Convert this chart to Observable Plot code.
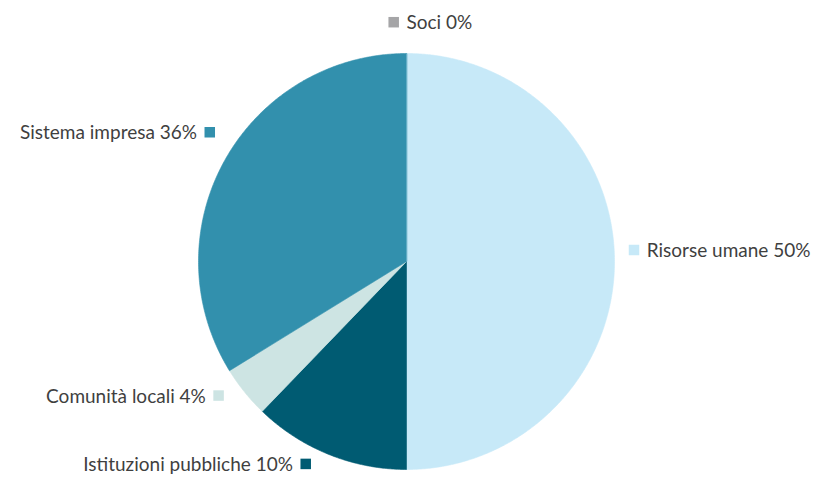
<!DOCTYPE html>
<html>
<head>
<meta charset="utf-8">
<script src="https://cdn.jsdelivr.net/npm/d3@7"></script>
<script src="https://cdn.jsdelivr.net/npm/@observablehq/plot@0.6"></script>
<style>
  html, body { margin: 0; padding: 0; background: #ffffff; }
  svg { display: block; }
</style>
</head>
<body>
<div id="chart"></div>
<script>
// ---- data ----
const categories = ["Risorse umane", "Istituzioni pubbliche", "Comunità locali", "Sistema impresa", "Soci"];
const shares = [50, 12.2, 4.0, 33.8, 0];          // slice sizes as drawn
const labelPct = ["50%", "10%", "4%", "36%", "0%"]; // percentages printed in labels
const colors = ["#c7e9f8", "#005b72", "#cde4e3", "#3290ad", "#a5a5a7"];

// ---- geometry from data ----
const total = d3.sum(shares);
let acc = 0;
const slices = categories.map((c, i) => {
  const a0 = acc / total * 2 * Math.PI;
  acc += shares[i];
  const a1 = acc / total * 2 * Math.PI;
  return {cat: c, i, a0, a1, mid: (a0 + a1) / 2, label: c + " " + labelPct[i]};
});

const polyPts = [];
for (const s of slices) {
  if (s.a1 - s.a0 <= 0) continue;
  polyPts.push({cat: s.cat, x: 0, y: 0});
  const n = Math.max(2, Math.ceil((s.a1 - s.a0) / (Math.PI / 360)));
  for (let k = 0; k <= n; k++) {
    const a = s.a0 + (s.a1 - s.a0) * k / n;
    polyPts.push({cat: s.cat, x: Math.sin(a), y: Math.cos(a)});
  }
}

// label placement: pixel offsets (from the slice's mid-angle point on the rim) to the key square
const R = 208;
const keyOffset = [[20, -11], [-22.5, 10], [-25.5, 4], [-14.6, -27.4], [-12.3, -30.8]];
const rightSide = [true, false, false, false, true];
const half = 5.25 / R;
const keys = slices.map((s, j) => {
  const [ox, oy] = keyOffset[j];
  const x = Math.sin(s.mid) + ox / R;
  const y = Math.cos(s.mid) - oy / R;
  const tx = rightSide[j] ? x + half + 7 / R : x - half - 8 / R;
  return {...s, x, y, x1: x - half, x2: x + half, y1: y - half, y2: y + half, tx, ty: y, right: rightSide[j]};
});

const textOpts = {x: "tx", y: "ty", text: "label", fill: "#3f3f3f", fontSize: 19, dy: 0.5};

const chart = Plot.plot({
  width: 818,
  height: 477,
  margin: 0,
  x: {domain: [-1, 1], range: [406 - R, 406 + R], axis: null},
  y: {domain: [-1, 1], range: [261 + R, 261 - R], axis: null},
  color: {domain: categories, range: colors},
  style: {fontFamily: "Lato, 'Open Sans', sans-serif", background: "#ffffff"},
  marks: [
    Plot.line(polyPts, {x: "x", y: "y", z: "cat", fill: "cat", stroke: "cat", strokeWidth: 0.6, curve: "linear-closed"}),
    Plot.rect(keys, {x1: "x1", x2: "x2", y1: "y1", y2: "y2", fill: "cat", inset: 0}),
    Plot.text(keys.filter(d => d.right), {...textOpts, textAnchor: "start"}),
    Plot.text(keys.filter(d => !d.right), {...textOpts, textAnchor: "end"})
  ]
});

document.getElementById("chart").append(chart);
</script>
</body>
</html>
